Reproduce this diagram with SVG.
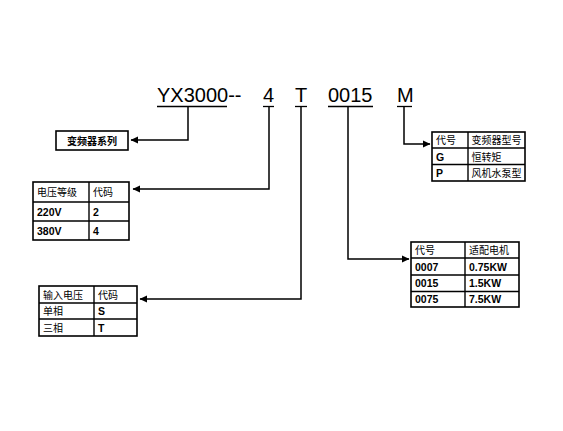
<svg xmlns="http://www.w3.org/2000/svg" width="563" height="431" viewBox="0 0 563 431">
<style>
.code{font-family:"Liberation Sans",Arial,sans-serif;font-size:20px;fill:#000}
.zh{font-family:"Noto Sans CJK SC","Noto Sans",sans-serif;font-size:10px;fill:#000}
.en{font-family:"Liberation Sans",Arial,sans-serif;font-size:10.5px;font-weight:bold;fill:#000}
.box{fill:#fff;stroke:#000;stroke-width:1.6}
.grid{stroke:#000;stroke-width:1.4;fill:none}
.conn{fill:none;stroke:#000;stroke-width:1.5}
.ul{stroke:#000;stroke-width:1.3}
</style>
<defs>
<marker id="arr" markerWidth="8" markerHeight="8" refX="7" refY="4" orient="auto" markerUnits="userSpaceOnUse">
<path d="M0,0.6 L7.5,4 L0,7.4 Z" fill="#000"/>
</marker>
</defs>
<rect width="563" height="431" fill="#fff"/>

<g id="model-code">
<text class="code" x="157" y="102">YX3000--</text>
<text class="code" x="263" y="102">4</text>
<text class="code" x="295" y="102">T</text>
<text class="code" x="328" y="102">0015</text>
<text class="code" x="397" y="102">M</text>
<line class="ul" x1="157" y1="106.5" x2="227" y2="106.5"/>
<line class="ul" x1="263" y1="106.5" x2="274" y2="106.5"/>
<line class="ul" x1="295" y1="106.5" x2="307" y2="106.5"/>
<line class="ul" x1="328" y1="106.5" x2="373" y2="106.5"/>
<line class="ul" x1="397" y1="106.5" x2="412" y2="106.5"/>
</g>

<g id="connectors">
<polyline class="conn" points="188,107 188,140 131,140" marker-end="url(#arr)"/>
<polyline class="conn" points="269,107 269,189 133,189" marker-end="url(#arr)"/>
<polyline class="conn" points="301,107 301,299 140,299" marker-end="url(#arr)"/>
<polyline class="conn" points="348,107 348,259 409,259" marker-end="url(#arr)"/>
<polyline class="conn" points="404,107 404,144 430,144" marker-end="url(#arr)"/>
</g>

<g id="series-box">
<rect class="box" x="56" y="131" width="72" height="19"/>
<text class="zh" x="92" y="144.5" text-anchor="middle" font-weight="bold">变频器系列</text>
</g>

<g id="voltage-table">
<rect class="box" x="33" y="182" width="96" height="58"/>
<line class="grid" x1="89" y1="182" x2="89" y2="240"/>
<line class="grid" x1="33" y1="202" x2="129" y2="202"/>
<line class="grid" x1="33" y1="221" x2="129" y2="221"/>
<text class="zh" x="37" y="196">电压等级</text>
<text class="zh" x="93" y="196">代码</text>
<text class="en" x="37" y="215.5">220V</text>
<text class="en" x="93" y="215.5">2</text>
<text class="en" x="37" y="234.5">380V</text>
<text class="en" x="93" y="234.5">4</text>
</g>

<g id="input-table">
<rect class="box" x="39" y="286" width="98" height="50"/>
<line class="grid" x1="94" y1="286" x2="94" y2="336"/>
<line class="grid" x1="39" y1="303" x2="137" y2="303"/>
<line class="grid" x1="39" y1="319" x2="137" y2="319"/>
<text class="zh" x="43" y="298.5">输入电压</text>
<text class="zh" x="98" y="298.5">代码</text>
<text class="zh" x="43" y="315">单相</text>
<text class="en" x="98" y="315">S</text>
<text class="zh" x="43" y="331.5">三相</text>
<text class="en" x="98" y="331.5">T</text>
</g>

<g id="type-table">
<rect class="box" x="432" y="132" width="93" height="49"/>
<line class="grid" x1="468" y1="132" x2="468" y2="181"/>
<line class="grid" x1="432" y1="148" x2="525" y2="148"/>
<line class="grid" x1="432" y1="164.5" x2="525" y2="164.5"/>
<text class="zh" x="436" y="144">代号</text>
<text class="zh" x="471.5" y="144">变频器型号</text>
<text class="en" x="436" y="160.5">G</text>
<text class="zh" x="471.5" y="160.5">恒转矩</text>
<text class="en" x="436" y="177">P</text>
<text class="zh" x="471.5" y="177">风机水泵型</text>
</g>

<g id="power-table">
<rect class="box" x="411" y="242" width="108" height="65"/>
<line class="grid" x1="465" y1="242" x2="465" y2="307"/>
<line class="grid" x1="411" y1="258" x2="519" y2="258"/>
<line class="grid" x1="411" y1="275" x2="519" y2="275"/>
<line class="grid" x1="411" y1="291.5" x2="519" y2="291.5"/>
<text class="zh" x="415" y="254">代号</text>
<text class="zh" x="469" y="254">适配电机</text>
<text class="en" x="415" y="270.5">0007</text>
<text class="en" x="469" y="270.5">0.75KW</text>
<text class="en" x="415" y="287">0015</text>
<text class="en" x="469" y="287">1.5KW</text>
<text class="en" x="415" y="303">0075</text>
<text class="en" x="469" y="303">7.5KW</text>
</g>
</svg>
